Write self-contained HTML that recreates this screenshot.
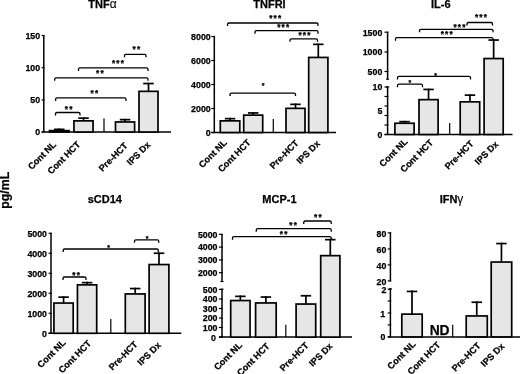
<!DOCTYPE html>
<html><head><meta charset="utf-8"><title>Cytokine levels</title>
<style>
html,body{margin:0;padding:0;background:#fff;}
body{width:520px;height:374px;overflow:hidden;}
svg{display:block;font-family:"Liberation Sans", sans-serif;}
text{fill:#000;stroke:#000;stroke-width:0.25px;}
</style></head><body>
<svg width="520" height="374" viewBox="0 0 520 374">
<rect width="520" height="374" fill="#fff"/>
<defs><filter id="soft" x="-2%" y="-2%" width="104%" height="104%"><feGaussianBlur stdDeviation="0.3"/></filter></defs>
<g filter="url(#soft)">
<text x="102.4" y="8.2" font-size="11" font-weight="bold" text-anchor="middle">TNF<tspan font-weight="normal" font-size="12" stroke-width="0.1">&#945;</tspan></text>
<line x1="43.8" y1="35" x2="43.8" y2="132" stroke="#000" stroke-width="1.5" stroke-linecap="butt"/>
<line x1="41.599999999999994" y1="35.5" x2="44.55" y2="35.5" stroke="#000" stroke-width="1.2" stroke-linecap="butt"/>
<text x="40.099999999999994" y="38.8" font-size="8.8" font-weight="bold" text-anchor="end">150</text>
<line x1="41.599999999999994" y1="67.7" x2="44.55" y2="67.7" stroke="#000" stroke-width="1.2" stroke-linecap="butt"/>
<text x="40.099999999999994" y="71.0" font-size="8.8" font-weight="bold" text-anchor="end">100</text>
<line x1="41.599999999999994" y1="99.9" x2="44.55" y2="99.9" stroke="#000" stroke-width="1.2" stroke-linecap="butt"/>
<text x="40.099999999999994" y="103.2" font-size="8.8" font-weight="bold" text-anchor="end">50</text>
<line x1="41.599999999999994" y1="132" x2="44.55" y2="132" stroke="#000" stroke-width="1.2" stroke-linecap="butt"/>
<text x="40.099999999999994" y="135.3" font-size="8.8" font-weight="bold" text-anchor="end">0</text>
<line x1="41.599999999999994" y1="132" x2="171" y2="132" stroke="#000" stroke-width="1.5" stroke-linecap="butt"/>
<rect x="49.45" y="130.64999999999998" width="19.600000000000005" height="1.350000000000017" fill="#e6e6e6" stroke="#000" stroke-width="1.7"/>
<line x1="59.25" y1="128.5" x2="59.25" y2="130.64999999999998" stroke="#000" stroke-width="1.7" stroke-linecap="butt"/>
<line x1="54.0" y1="129.35" x2="64.5" y2="129.35" stroke="#000" stroke-width="1.7" stroke-linecap="butt"/>
<rect x="73.94999999999999" y="120.85" width="19.100000000000012" height="11.15" fill="#e6e6e6" stroke="#000" stroke-width="1.7"/>
<line x1="83.5" y1="117.3" x2="83.5" y2="120.85" stroke="#000" stroke-width="1.7" stroke-linecap="butt"/>
<line x1="78.25" y1="118.14999999999999" x2="88.75" y2="118.14999999999999" stroke="#000" stroke-width="1.7" stroke-linecap="butt"/>
<rect x="115.49999999999999" y="121.95" width="19.100000000000026" height="10.049999999999992" fill="#e6e6e6" stroke="#000" stroke-width="1.7"/>
<line x1="125.05000000000001" y1="118.8" x2="125.05000000000001" y2="121.95" stroke="#000" stroke-width="1.7" stroke-linecap="butt"/>
<line x1="119.80000000000001" y1="119.64999999999999" x2="130.3" y2="119.64999999999999" stroke="#000" stroke-width="1.7" stroke-linecap="butt"/>
<rect x="139.0" y="91.35" width="18.99999999999999" height="40.65" fill="#e6e6e6" stroke="#000" stroke-width="1.7"/>
<line x1="148.5" y1="82.7" x2="148.5" y2="91.35" stroke="#000" stroke-width="1.7" stroke-linecap="butt"/>
<line x1="143.25" y1="83.55" x2="153.75" y2="83.55" stroke="#000" stroke-width="1.7" stroke-linecap="butt"/>
<line x1="104" y1="118.5" x2="104" y2="132" stroke="#000" stroke-width="1.2" stroke-linecap="butt"/>
<path d="M55.5 115.5 V113.9 Q55.5 112.5 56.9 112.5 H78.6 Q80 112.5 80 113.9 V115.5" fill="none" stroke="#000" stroke-width="1.3"/>
<text x="69.25" y="111.7" font-size="8.2" font-weight="bold" text-anchor="middle" letter-spacing="1.2" stroke-width="0.3">**</text>
<path d="M55.6 100.9 V99.30000000000001 Q55.6 97.9 57.0 97.9 H124.6 Q126 97.9 126 99.30000000000001 V100.9" fill="none" stroke="#000" stroke-width="1.3"/>
<text x="95.0" y="96.2" font-size="8.2" font-weight="bold" text-anchor="middle" letter-spacing="1.2" stroke-width="0.3">**</text>
<path d="M54.7 80.8 V79.2 Q54.7 77.8 56.1 77.8 H146.6 Q148 77.8 148 79.2 V80.8" fill="none" stroke="#000" stroke-width="1.3"/>
<text x="100.5" y="75.7" font-size="8.2" font-weight="bold" text-anchor="middle" letter-spacing="1.2" stroke-width="0.3">**</text>
<path d="M78.5 70.9 V69.30000000000001 Q78.5 67.9 79.9 67.9 H146.6 Q148 67.9 148 69.30000000000001 V70.9" fill="none" stroke="#000" stroke-width="1.3"/>
<text x="118.5" y="66.2" font-size="8.2" font-weight="bold" text-anchor="middle" letter-spacing="1.2" stroke-width="0.3">***</text>
<path d="M124.5 57.3 V55.699999999999996 Q124.5 54.3 125.9 54.3 H144.6 Q146 54.3 146 55.699999999999996 V57.3" fill="none" stroke="#000" stroke-width="1.3"/>
<text x="137.0" y="52.1" font-size="8.2" font-weight="bold" text-anchor="middle" letter-spacing="1.2" stroke-width="0.3">**</text>
<text x="56.7" y="145.2" font-size="9.1" font-weight="bold" text-anchor="end" transform="rotate(-45 56.7 145.2)">Cont NL</text>
<text x="80.9" y="145.1" font-size="9.1" font-weight="bold" text-anchor="end" transform="rotate(-45 80.9 145.1)">Cont HCT</text>
<text x="128.3" y="146.3" font-size="9.1" font-weight="bold" text-anchor="end" transform="rotate(-45 128.3 146.3)">Pre-HCT</text>
<text x="151" y="145.4" font-size="9.1" font-weight="bold" text-anchor="end" transform="rotate(-45 151 145.4)">IPS Dx</text>
<text x="269.5" y="8.1" font-size="11" font-weight="bold" text-anchor="middle">TNFRI</text>
<line x1="214.3" y1="36" x2="214.3" y2="132.5" stroke="#000" stroke-width="1.5" stroke-linecap="butt"/>
<line x1="211.3" y1="36.5" x2="215.05" y2="36.5" stroke="#000" stroke-width="1.2" stroke-linecap="butt"/>
<text x="210.70000000000002" y="39.8" font-size="8.8" font-weight="bold" text-anchor="end">8000</text>
<line x1="211.3" y1="60.5" x2="215.05" y2="60.5" stroke="#000" stroke-width="1.2" stroke-linecap="butt"/>
<text x="210.70000000000002" y="63.8" font-size="8.8" font-weight="bold" text-anchor="end">6000</text>
<line x1="211.3" y1="84.5" x2="215.05" y2="84.5" stroke="#000" stroke-width="1.2" stroke-linecap="butt"/>
<text x="210.70000000000002" y="87.8" font-size="8.8" font-weight="bold" text-anchor="end">4000</text>
<line x1="211.3" y1="108.5" x2="215.05" y2="108.5" stroke="#000" stroke-width="1.2" stroke-linecap="butt"/>
<text x="210.70000000000002" y="111.8" font-size="8.8" font-weight="bold" text-anchor="end">2000</text>
<line x1="211.3" y1="132.5" x2="215.05" y2="132.5" stroke="#000" stroke-width="1.2" stroke-linecap="butt"/>
<text x="210.70000000000002" y="135.8" font-size="8.8" font-weight="bold" text-anchor="end">0</text>
<line x1="211.3" y1="132.5" x2="336" y2="132.5" stroke="#000" stroke-width="1.5" stroke-linecap="butt"/>
<rect x="220.29999999999998" y="120.85" width="19.500000000000018" height="11.65" fill="#e6e6e6" stroke="#000" stroke-width="1.7"/>
<line x1="230.05" y1="117.8" x2="230.05" y2="120.85" stroke="#000" stroke-width="1.7" stroke-linecap="butt"/>
<line x1="224.8" y1="118.64999999999999" x2="235.3" y2="118.64999999999999" stroke="#000" stroke-width="1.7" stroke-linecap="butt"/>
<rect x="243.7" y="115.14999999999999" width="18.99999999999996" height="17.35" fill="#e6e6e6" stroke="#000" stroke-width="1.7"/>
<line x1="253.2" y1="112.1" x2="253.2" y2="115.14999999999999" stroke="#000" stroke-width="1.7" stroke-linecap="butt"/>
<line x1="247.95" y1="112.94999999999999" x2="258.45" y2="112.94999999999999" stroke="#000" stroke-width="1.7" stroke-linecap="butt"/>
<rect x="286.00000000000006" y="108.35" width="18.999999999999932" height="24.15" fill="#e6e6e6" stroke="#000" stroke-width="1.7"/>
<line x1="295.5" y1="103.5" x2="295.5" y2="108.35" stroke="#000" stroke-width="1.7" stroke-linecap="butt"/>
<line x1="290.25" y1="104.35" x2="300.75" y2="104.35" stroke="#000" stroke-width="1.7" stroke-linecap="butt"/>
<rect x="308.70000000000005" y="57.45" width="19.199999999999978" height="75.05000000000001" fill="#e6e6e6" stroke="#000" stroke-width="1.7"/>
<line x1="318.3" y1="43.5" x2="318.3" y2="57.45" stroke="#000" stroke-width="1.7" stroke-linecap="butt"/>
<line x1="313.05" y1="44.35" x2="323.55" y2="44.35" stroke="#000" stroke-width="1.7" stroke-linecap="butt"/>
<line x1="273.3" y1="119" x2="273.3" y2="132.5" stroke="#000" stroke-width="1.2" stroke-linecap="butt"/>
<path d="M227.5 26.0 V24.4 Q227.5 23 228.9 23 H316.6 Q318 23 318 24.4 V26.0" fill="none" stroke="#000" stroke-width="1.3"/>
<text x="275.75" y="20.5" font-size="8.2" font-weight="bold" text-anchor="middle" letter-spacing="1.2" stroke-width="0.3">***</text>
<path d="M255 33.7 V32.1 Q255 30.7 256.4 30.7 H316.6 Q318 30.7 318 32.1 V33.7" fill="none" stroke="#000" stroke-width="1.3"/>
<text x="283.75" y="30.0" font-size="8.2" font-weight="bold" text-anchor="middle" letter-spacing="1.2" stroke-width="0.3">***</text>
<path d="M290 41.8 V40.199999999999996 Q290 38.8 291.4 38.8 H316.1 Q317.5 38.8 317.5 40.199999999999996 V41.8" fill="none" stroke="#000" stroke-width="1.3"/>
<text x="305.0" y="37.6" font-size="8.2" font-weight="bold" text-anchor="middle" letter-spacing="1.2" stroke-width="0.3">***</text>
<path d="M230 96.1 V94.5 Q230 93.1 231.4 93.1 H294.1 Q295.5 93.1 295.5 94.5 V96.1" fill="none" stroke="#000" stroke-width="1.3"/>
<text x="263.2" y="87.8" font-size="7.0" font-weight="bold" text-anchor="middle" stroke-width="0.35">*</text>
<text x="227.4" y="143.4" font-size="9.1" font-weight="bold" text-anchor="end" transform="rotate(-45 227.4 143.4)">Cont NL</text>
<text x="251.3" y="143.2" font-size="9.1" font-weight="bold" text-anchor="end" transform="rotate(-45 251.3 143.2)">Cont HCT</text>
<text x="299.2" y="143.7" font-size="9.1" font-weight="bold" text-anchor="end" transform="rotate(-45 299.2 143.7)">Pre-HCT</text>
<text x="320.6" y="144.2" font-size="9.1" font-weight="bold" text-anchor="end" transform="rotate(-45 320.6 144.2)">IPS Dx</text>
<text x="440.8" y="8.1" font-size="11" font-weight="bold" text-anchor="middle">IL-6</text>
<line x1="387.6" y1="31.7" x2="387.6" y2="79.6" stroke="#000" stroke-width="1.5" stroke-linecap="butt"/>
<line x1="386.0" y1="79.2" x2="389.20000000000005" y2="79.2" stroke="#000" stroke-width="1.0" stroke-linecap="butt"/>
<line x1="387.6" y1="86.6" x2="387.6" y2="134.5" stroke="#000" stroke-width="1.5" stroke-linecap="butt"/>
<line x1="386.0" y1="87.0" x2="389.20000000000005" y2="87.0" stroke="#000" stroke-width="1.0" stroke-linecap="butt"/>
<line x1="384.5" y1="32.2" x2="388.35" y2="32.2" stroke="#000" stroke-width="1.2" stroke-linecap="butt"/>
<text x="382.3" y="35.5" font-size="8.8" font-weight="bold" text-anchor="end">1500</text>
<line x1="384.5" y1="52" x2="388.35" y2="52" stroke="#000" stroke-width="1.2" stroke-linecap="butt"/>
<text x="382.3" y="55.3" font-size="8.8" font-weight="bold" text-anchor="end">1000</text>
<line x1="384.5" y1="71.5" x2="388.35" y2="71.5" stroke="#000" stroke-width="1.2" stroke-linecap="butt"/>
<text x="382.3" y="74.8" font-size="8.8" font-weight="bold" text-anchor="end">500</text>
<line x1="384.5" y1="87" x2="388.35" y2="87" stroke="#000" stroke-width="1.2" stroke-linecap="butt"/>
<text x="382.3" y="90.3" font-size="8.8" font-weight="bold" text-anchor="end">10</text>
<line x1="384.5" y1="96.5" x2="388.35" y2="96.5" stroke="#000" stroke-width="1.2" stroke-linecap="butt"/>
<line x1="384.5" y1="106.0" x2="388.35" y2="106.0" stroke="#000" stroke-width="1.2" stroke-linecap="butt"/>
<line x1="384.5" y1="115.5" x2="388.35" y2="115.5" stroke="#000" stroke-width="1.2" stroke-linecap="butt"/>
<line x1="384.5" y1="125.0" x2="388.35" y2="125.0" stroke="#000" stroke-width="1.2" stroke-linecap="butt"/>
<line x1="384.5" y1="134.5" x2="388.35" y2="134.5" stroke="#000" stroke-width="1.2" stroke-linecap="butt"/>
<text x="382.3" y="137.8" font-size="8.8" font-weight="bold" text-anchor="end">0</text>
<line x1="384.5" y1="134.5" x2="512.5" y2="134.5" stroke="#000" stroke-width="1.5" stroke-linecap="butt"/>
<rect x="394.90000000000003" y="123.25" width="19.199999999999978" height="11.249999999999995" fill="#e6e6e6" stroke="#000" stroke-width="1.7"/>
<line x1="404.5" y1="120.8" x2="404.5" y2="123.25" stroke="#000" stroke-width="1.7" stroke-linecap="butt"/>
<line x1="399.25" y1="121.64999999999999" x2="409.75" y2="121.64999999999999" stroke="#000" stroke-width="1.7" stroke-linecap="butt"/>
<rect x="419.00000000000006" y="99.64999999999999" width="19.099999999999955" height="34.85" fill="#e6e6e6" stroke="#000" stroke-width="1.7"/>
<line x1="428.55" y1="88.6" x2="428.55" y2="99.64999999999999" stroke="#000" stroke-width="1.7" stroke-linecap="butt"/>
<line x1="423.3" y1="89.44999999999999" x2="433.8" y2="89.44999999999999" stroke="#000" stroke-width="1.7" stroke-linecap="butt"/>
<rect x="460.20000000000005" y="101.85" width="19.499999999999932" height="32.65" fill="#e6e6e6" stroke="#000" stroke-width="1.7"/>
<line x1="469.95" y1="94.3" x2="469.95" y2="101.85" stroke="#000" stroke-width="1.7" stroke-linecap="butt"/>
<line x1="464.7" y1="95.14999999999999" x2="475.2" y2="95.14999999999999" stroke="#000" stroke-width="1.7" stroke-linecap="butt"/>
<rect x="484.1" y="58.550000000000004" width="19.099999999999955" height="75.95" fill="#e6e6e6" stroke="#000" stroke-width="1.7"/>
<line x1="493.65" y1="39.2" x2="493.65" y2="58.550000000000004" stroke="#000" stroke-width="1.7" stroke-linecap="butt"/>
<line x1="488.4" y1="40.050000000000004" x2="498.9" y2="40.050000000000004" stroke="#000" stroke-width="1.7" stroke-linecap="butt"/>
<line x1="449.7" y1="123" x2="449.7" y2="134.5" stroke="#000" stroke-width="1.2" stroke-linecap="butt"/>
<path d="M467 25.5 V23.9 Q467 22.5 468.4 22.5 H491.1 Q492.5 22.5 492.5 23.9 V25.5" fill="none" stroke="#000" stroke-width="1.3"/>
<text x="481.5" y="19.7" font-size="8.2" font-weight="bold" text-anchor="middle" letter-spacing="1.2" stroke-width="0.3">***</text>
<path d="M419.5 32.3 V30.7 Q419.5 29.3 420.9 29.3 H491.6 Q493 29.3 493 30.7 V32.3" fill="none" stroke="#000" stroke-width="1.3"/>
<text x="460.0" y="29.9" font-size="8.2" font-weight="bold" text-anchor="middle" letter-spacing="1.2" stroke-width="0.3">***</text>
<path d="M395.5 40.7 V39.1 Q395.5 37.7 396.9 37.7 H491.6 Q493 37.7 493 39.1 V40.7" fill="none" stroke="#000" stroke-width="1.3"/>
<text x="447.25" y="37.4" font-size="8.2" font-weight="bold" text-anchor="middle" letter-spacing="1.2" stroke-width="0.3">***</text>
<path d="M397.5 79.4 V77.80000000000001 Q397.5 76.4 398.9 76.4 H469.1 Q470.5 76.4 470.5 77.80000000000001 V79.4" fill="none" stroke="#000" stroke-width="1.3"/>
<text x="435.5" y="77.5" font-size="7.0" font-weight="bold" text-anchor="middle" stroke-width="0.35">*</text>
<path d="M397.5 87.2 V85.60000000000001 Q397.5 84.2 398.9 84.2 H421.1 Q422.5 84.2 422.5 85.60000000000001 V87.2" fill="none" stroke="#000" stroke-width="1.3"/>
<text x="409.9" y="85.3" font-size="7.0" font-weight="bold" text-anchor="middle" stroke-width="0.35">*</text>
<text x="408.1" y="142.4" font-size="9.1" font-weight="bold" text-anchor="end" transform="rotate(-45 408.1 142.4)">Cont NL</text>
<text x="433.7" y="143.3" font-size="9.1" font-weight="bold" text-anchor="end" transform="rotate(-45 433.7 143.3)">Cont HCT</text>
<text x="474.2" y="144.3" font-size="9.1" font-weight="bold" text-anchor="end" transform="rotate(-45 474.2 144.3)">Pre-HCT</text>
<text x="499.0" y="144.8" font-size="9.1" font-weight="bold" text-anchor="end" transform="rotate(-45 499.0 144.8)">IPS Dx</text>
<text x="382.3" y="114.0" font-size="8.8" font-weight="bold" text-anchor="end">5</text>
<text x="104.8" y="203.4" font-size="11" font-weight="bold" text-anchor="middle">sCD14</text>
<line x1="51" y1="232.7" x2="51" y2="333.3" stroke="#000" stroke-width="1.5" stroke-linecap="butt"/>
<line x1="48.6" y1="233.3" x2="51.75" y2="233.3" stroke="#000" stroke-width="1.2" stroke-linecap="butt"/>
<text x="47.0" y="236.60000000000002" font-size="8.8" font-weight="bold" text-anchor="end">5000</text>
<line x1="48.6" y1="253.3" x2="51.75" y2="253.3" stroke="#000" stroke-width="1.2" stroke-linecap="butt"/>
<text x="47.0" y="256.6" font-size="8.8" font-weight="bold" text-anchor="end">4000</text>
<line x1="48.6" y1="273.3" x2="51.75" y2="273.3" stroke="#000" stroke-width="1.2" stroke-linecap="butt"/>
<text x="47.0" y="276.6" font-size="8.8" font-weight="bold" text-anchor="end">3000</text>
<line x1="48.6" y1="293.3" x2="51.75" y2="293.3" stroke="#000" stroke-width="1.2" stroke-linecap="butt"/>
<text x="47.0" y="296.6" font-size="8.8" font-weight="bold" text-anchor="end">2000</text>
<line x1="48.6" y1="313.3" x2="51.75" y2="313.3" stroke="#000" stroke-width="1.2" stroke-linecap="butt"/>
<text x="47.0" y="316.6" font-size="8.8" font-weight="bold" text-anchor="end">1000</text>
<line x1="48.6" y1="333.3" x2="51.75" y2="333.3" stroke="#000" stroke-width="1.2" stroke-linecap="butt"/>
<text x="47.0" y="336.6" font-size="8.8" font-weight="bold" text-anchor="end">0</text>
<line x1="48.6" y1="333.3" x2="181.3" y2="333.3" stroke="#000" stroke-width="1.5" stroke-linecap="butt"/>
<rect x="53.95" y="303.05" width="19.25000000000001" height="30.25000000000002" fill="#e6e6e6" stroke="#000" stroke-width="1.7"/>
<line x1="63.575" y1="296.3" x2="63.575" y2="303.05" stroke="#000" stroke-width="1.7" stroke-linecap="butt"/>
<line x1="58.325" y1="297.15000000000003" x2="68.825" y2="297.15000000000003" stroke="#000" stroke-width="1.7" stroke-linecap="butt"/>
<rect x="77.44999999999999" y="284.85" width="19.250000000000018" height="48.45000000000001" fill="#e6e6e6" stroke="#000" stroke-width="1.7"/>
<line x1="87.075" y1="281.8" x2="87.075" y2="284.85" stroke="#000" stroke-width="1.7" stroke-linecap="butt"/>
<line x1="81.825" y1="282.65000000000003" x2="92.325" y2="282.65000000000003" stroke="#000" stroke-width="1.7" stroke-linecap="butt"/>
<rect x="125.29999999999998" y="293.95" width="19.80000000000003" height="39.350000000000044" fill="#e6e6e6" stroke="#000" stroke-width="1.7"/>
<line x1="135.2" y1="287.7" x2="135.2" y2="293.95" stroke="#000" stroke-width="1.7" stroke-linecap="butt"/>
<line x1="129.95" y1="288.55" x2="140.45" y2="288.55" stroke="#000" stroke-width="1.7" stroke-linecap="butt"/>
<rect x="149.1" y="264.55" width="19.8" height="68.75000000000003" fill="#e6e6e6" stroke="#000" stroke-width="1.7"/>
<line x1="159.0" y1="252.4" x2="159.0" y2="264.55" stroke="#000" stroke-width="1.7" stroke-linecap="butt"/>
<line x1="153.75" y1="253.25" x2="164.25" y2="253.25" stroke="#000" stroke-width="1.7" stroke-linecap="butt"/>
<line x1="110.8" y1="319" x2="110.8" y2="333.3" stroke="#000" stroke-width="1.2" stroke-linecap="butt"/>
<path d="M63.2 252.0 V250.4 Q63.2 249.0 64.60000000000001 249.0 H156.9 Q158.3 249.0 158.3 250.4 V252.0" fill="none" stroke="#000" stroke-width="1.3"/>
<text x="108.55" y="249.8" font-size="7.0" font-weight="bold" text-anchor="middle" stroke-width="0.35">*</text>
<path d="M63 280.0 V278.4 Q63 277 64.4 277 H84.6 Q86 277 86 278.4 V280.0" fill="none" stroke="#000" stroke-width="1.3"/>
<text x="76.75" y="277.7" font-size="8.2" font-weight="bold" text-anchor="middle" letter-spacing="1.2" stroke-width="0.3">**</text>
<path d="M134.5 242.8 V241.20000000000002 Q134.5 239.8 135.9 239.8 H157.35 Q158.75 239.8 158.75 241.20000000000002 V242.8" fill="none" stroke="#000" stroke-width="1.3"/>
<text x="147.2" y="240.5" font-size="7.0" font-weight="bold" text-anchor="middle" stroke-width="0.35">*</text>
<text x="66.1" y="343.4" font-size="9.1" font-weight="bold" text-anchor="end" transform="rotate(-45 66.1 343.4)">Cont NL</text>
<text x="91.8" y="344.1" font-size="9.1" font-weight="bold" text-anchor="end" transform="rotate(-45 91.8 344.1)">Cont HCT</text>
<text x="138.2" y="345.0" font-size="9.1" font-weight="bold" text-anchor="end" transform="rotate(-45 138.2 345.0)">Pre-HCT</text>
<text x="161.5" y="345.7" font-size="9.1" font-weight="bold" text-anchor="end" transform="rotate(-45 161.5 345.7)">IPS Dx</text>
<text x="279.4" y="203.3" font-size="11" font-weight="bold" text-anchor="middle">MCP-1</text>
<line x1="222.0" y1="234" x2="222.0" y2="282" stroke="#000" stroke-width="1.5" stroke-linecap="butt"/>
<line x1="220.4" y1="281.6" x2="223.6" y2="281.6" stroke="#000" stroke-width="1.0" stroke-linecap="butt"/>
<line x1="222.0" y1="288.8" x2="222.0" y2="337" stroke="#000" stroke-width="1.5" stroke-linecap="butt"/>
<line x1="220.4" y1="289.2" x2="223.6" y2="289.2" stroke="#000" stroke-width="1.0" stroke-linecap="butt"/>
<line x1="218.9" y1="234.3" x2="222.75" y2="234.3" stroke="#000" stroke-width="1.2" stroke-linecap="butt"/>
<text x="217.5" y="237.60000000000002" font-size="8.8" font-weight="bold" text-anchor="end">5000</text>
<line x1="218.9" y1="247.1" x2="222.75" y2="247.1" stroke="#000" stroke-width="1.2" stroke-linecap="butt"/>
<text x="217.5" y="250.4" font-size="8.8" font-weight="bold" text-anchor="end">4000</text>
<line x1="218.9" y1="259.9" x2="222.75" y2="259.9" stroke="#000" stroke-width="1.2" stroke-linecap="butt"/>
<text x="217.5" y="263.2" font-size="8.8" font-weight="bold" text-anchor="end">3000</text>
<line x1="218.9" y1="272.7" x2="222.75" y2="272.7" stroke="#000" stroke-width="1.2" stroke-linecap="butt"/>
<text x="217.5" y="276.0" font-size="8.8" font-weight="bold" text-anchor="end">2000</text>
<line x1="218.9" y1="289.4" x2="222.75" y2="289.4" stroke="#000" stroke-width="1.2" stroke-linecap="butt"/>
<text x="217.5" y="292.7" font-size="8.8" font-weight="bold" text-anchor="end">500</text>
<line x1="218.9" y1="299" x2="222.75" y2="299" stroke="#000" stroke-width="1.2" stroke-linecap="butt"/>
<text x="217.5" y="302.3" font-size="8.8" font-weight="bold" text-anchor="end">400</text>
<line x1="218.9" y1="308.5" x2="222.75" y2="308.5" stroke="#000" stroke-width="1.2" stroke-linecap="butt"/>
<text x="217.5" y="311.8" font-size="8.8" font-weight="bold" text-anchor="end">300</text>
<line x1="218.9" y1="318" x2="222.75" y2="318" stroke="#000" stroke-width="1.2" stroke-linecap="butt"/>
<text x="217.5" y="321.3" font-size="8.8" font-weight="bold" text-anchor="end">200</text>
<line x1="218.9" y1="327.5" x2="222.75" y2="327.5" stroke="#000" stroke-width="1.2" stroke-linecap="butt"/>
<text x="217.5" y="330.8" font-size="8.8" font-weight="bold" text-anchor="end">100</text>
<line x1="218.9" y1="337.1" x2="222.75" y2="337.1" stroke="#000" stroke-width="1.2" stroke-linecap="butt"/>
<text x="215.8" y="341.2" font-size="8.8" font-weight="bold" text-anchor="end">0</text>
<line x1="218.9" y1="337.1" x2="352" y2="337.1" stroke="#000" stroke-width="1.5" stroke-linecap="butt"/>
<rect x="230.7" y="300.55" width="19.350000000000012" height="36.55000000000003" fill="#e6e6e6" stroke="#000" stroke-width="1.7"/>
<line x1="240.375" y1="295.5" x2="240.375" y2="300.55" stroke="#000" stroke-width="1.7" stroke-linecap="butt"/>
<line x1="235.125" y1="296.35" x2="245.625" y2="296.35" stroke="#000" stroke-width="1.7" stroke-linecap="butt"/>
<rect x="255.6" y="302.95" width="20.599999999999955" height="34.150000000000055" fill="#e6e6e6" stroke="#000" stroke-width="1.7"/>
<line x1="265.9" y1="296.2" x2="265.9" y2="302.95" stroke="#000" stroke-width="1.7" stroke-linecap="butt"/>
<line x1="260.65" y1="297.05" x2="271.15" y2="297.05" stroke="#000" stroke-width="1.7" stroke-linecap="butt"/>
<rect x="296.1" y="304.05" width="19.599999999999955" height="33.05000000000003" fill="#e6e6e6" stroke="#000" stroke-width="1.7"/>
<line x1="305.9" y1="294.9" x2="305.9" y2="304.05" stroke="#000" stroke-width="1.7" stroke-linecap="butt"/>
<line x1="300.65" y1="295.75" x2="311.15" y2="295.75" stroke="#000" stroke-width="1.7" stroke-linecap="butt"/>
<rect x="320.70000000000005" y="255.64999999999998" width="19.199999999999978" height="81.45000000000005" fill="#e6e6e6" stroke="#000" stroke-width="1.7"/>
<line x1="330.3" y1="238.8" x2="330.3" y2="255.64999999999998" stroke="#000" stroke-width="1.7" stroke-linecap="butt"/>
<line x1="325.05" y1="239.65" x2="335.55" y2="239.65" stroke="#000" stroke-width="1.7" stroke-linecap="butt"/>
<line x1="285.8" y1="324.8" x2="285.8" y2="337.1" stroke="#000" stroke-width="1.2" stroke-linecap="butt"/>
<path d="M303.75 224.0 V222.4 Q303.75 221 305.15 221 H329.85 Q331.25 221 331.25 222.4 V224.0" fill="none" stroke="#000" stroke-width="1.3"/>
<text x="318.4" y="220.1" font-size="8.2" font-weight="bold" text-anchor="middle" letter-spacing="1.2" stroke-width="0.3">**</text>
<path d="M256.25 231.7 V230.1 Q256.25 228.7 257.65 228.7 H329.85 Q331.25 228.7 331.25 230.1 V231.7" fill="none" stroke="#000" stroke-width="1.3"/>
<text x="293.75" y="227.9" font-size="8.2" font-weight="bold" text-anchor="middle" letter-spacing="1.2" stroke-width="0.3">**</text>
<path d="M232.5 239.7 V238.1 Q232.5 236.7 233.9 236.7 H329.85 Q331.25 236.7 331.25 238.1 V239.7" fill="none" stroke="#000" stroke-width="1.3"/>
<text x="284.25" y="236.5" font-size="8.2" font-weight="bold" text-anchor="middle" letter-spacing="1.2" stroke-width="0.3">**</text>
<text x="242.7" y="345.8" font-size="9.1" font-weight="bold" text-anchor="end" transform="rotate(-45 242.7 345.8)">Cont NL</text>
<text x="270.3" y="346.8" font-size="9.1" font-weight="bold" text-anchor="end" transform="rotate(-45 270.3 346.8)">Cont HCT</text>
<text x="309.2" y="346.1" font-size="9.1" font-weight="bold" text-anchor="end" transform="rotate(-45 309.2 346.1)">Pre-HCT</text>
<text x="333.2" y="346.7" font-size="9.1" font-weight="bold" text-anchor="end" transform="rotate(-45 333.2 346.7)">IPS Dx</text>
<text x="451.5" y="203.0" font-size="11" font-weight="bold" text-anchor="middle">IFN<tspan font-weight="normal" font-size="12" stroke-width="0.1">&#947;</tspan></text>
<line x1="390.4" y1="232.3" x2="390.4" y2="281.4" stroke="#000" stroke-width="1.5" stroke-linecap="butt"/>
<line x1="390.4" y1="288.5" x2="390.4" y2="336.9" stroke="#000" stroke-width="1.5" stroke-linecap="butt"/>
<line x1="388.79999999999995" y1="288.9" x2="392.0" y2="288.9" stroke="#000" stroke-width="1.0" stroke-linecap="butt"/>
<line x1="387.7" y1="232.9" x2="391.15" y2="232.9" stroke="#000" stroke-width="1.2" stroke-linecap="butt"/>
<text x="386.29999999999995" y="237.20000000000002" font-size="8.8" font-weight="bold" text-anchor="end">80</text>
<line x1="387.7" y1="249" x2="391.15" y2="249" stroke="#000" stroke-width="1.2" stroke-linecap="butt"/>
<text x="386.29999999999995" y="253.3" font-size="8.8" font-weight="bold" text-anchor="end">60</text>
<line x1="387.7" y1="264.9" x2="391.15" y2="264.9" stroke="#000" stroke-width="1.2" stroke-linecap="butt"/>
<text x="386.29999999999995" y="269.2" font-size="8.8" font-weight="bold" text-anchor="end">40</text>
<line x1="387.7" y1="280.9" x2="391.15" y2="280.9" stroke="#000" stroke-width="1.2" stroke-linecap="butt"/>
<text x="386.29999999999995" y="285.3" font-size="8.8" font-weight="bold" text-anchor="end">20</text>
<line x1="387.7" y1="289.2" x2="391.15" y2="289.2" stroke="#000" stroke-width="1.2" stroke-linecap="butt"/>
<text x="386.29999999999995" y="293.3" font-size="8.8" font-weight="bold" text-anchor="end">2</text>
<line x1="387.7" y1="301" x2="391.15" y2="301" stroke="#000" stroke-width="1.2" stroke-linecap="butt"/>
<line x1="387.7" y1="313.0" x2="391.15" y2="313.0" stroke="#000" stroke-width="1.2" stroke-linecap="butt"/>
<text x="385.09999999999997" y="316.5" font-size="8.8" font-weight="bold" text-anchor="end">1</text>
<line x1="387.7" y1="324.9" x2="391.15" y2="324.9" stroke="#000" stroke-width="1.2" stroke-linecap="butt"/>
<line x1="387.7" y1="336.9" x2="391.15" y2="336.9" stroke="#000" stroke-width="1.2" stroke-linecap="butt"/>
<text x="385.29999999999995" y="340.1" font-size="8.8" font-weight="bold" text-anchor="end">0</text>
<line x1="387.7" y1="336.9" x2="520" y2="336.9" stroke="#000" stroke-width="1.5" stroke-linecap="butt"/>
<rect x="401.80000000000007" y="314.15000000000003" width="20.39999999999991" height="22.749999999999964" fill="#e6e6e6" stroke="#000" stroke-width="1.7"/>
<line x1="412.0" y1="290.6" x2="412.0" y2="314.15000000000003" stroke="#000" stroke-width="1.7" stroke-linecap="butt"/>
<line x1="406.75" y1="291.45000000000005" x2="417.25" y2="291.45000000000005" stroke="#000" stroke-width="1.7" stroke-linecap="butt"/>
<rect x="466.20000000000005" y="315.95" width="21.099999999999955" height="20.95000000000001" fill="#e6e6e6" stroke="#000" stroke-width="1.7"/>
<line x1="476.75" y1="301.4" x2="476.75" y2="315.95" stroke="#000" stroke-width="1.7" stroke-linecap="butt"/>
<line x1="471.5" y1="302.25" x2="482.0" y2="302.25" stroke="#000" stroke-width="1.7" stroke-linecap="butt"/>
<rect x="491.20000000000005" y="262.05" width="20.499999999999932" height="74.85" fill="#e6e6e6" stroke="#000" stroke-width="1.7"/>
<line x1="501.45" y1="242.7" x2="501.45" y2="262.05" stroke="#000" stroke-width="1.7" stroke-linecap="butt"/>
<line x1="496.2" y1="243.54999999999998" x2="506.7" y2="243.54999999999998" stroke="#000" stroke-width="1.7" stroke-linecap="butt"/>
<line x1="452.7" y1="324.8" x2="452.7" y2="336.9" stroke="#000" stroke-width="1.2" stroke-linecap="butt"/>
<text x="416.1" y="344.9" font-size="9.1" font-weight="bold" text-anchor="end" transform="rotate(-45 416.1 344.9)">Cont NL</text>
<text x="440.9" y="345.5" font-size="9.1" font-weight="bold" text-anchor="end" transform="rotate(-45 440.9 345.5)">Cont HCT</text>
<text x="481.3" y="346.3" font-size="9.1" font-weight="bold" text-anchor="end" transform="rotate(-45 481.3 346.3)">Pre-HCT</text>
<text x="505.0" y="346.9" font-size="9.1" font-weight="bold" text-anchor="end" transform="rotate(-45 505.0 346.9)">IPS Dx</text>
<text x="439.6" y="334.6" font-size="13.8" font-weight="bold" text-anchor="middle">ND</text>
<text x="9.3" y="190.3" font-size="12.3" font-weight="bold" text-anchor="middle" transform="rotate(-90 9.3 190.3)">pg/mL</text>
</g>
</svg>
</body></html>
